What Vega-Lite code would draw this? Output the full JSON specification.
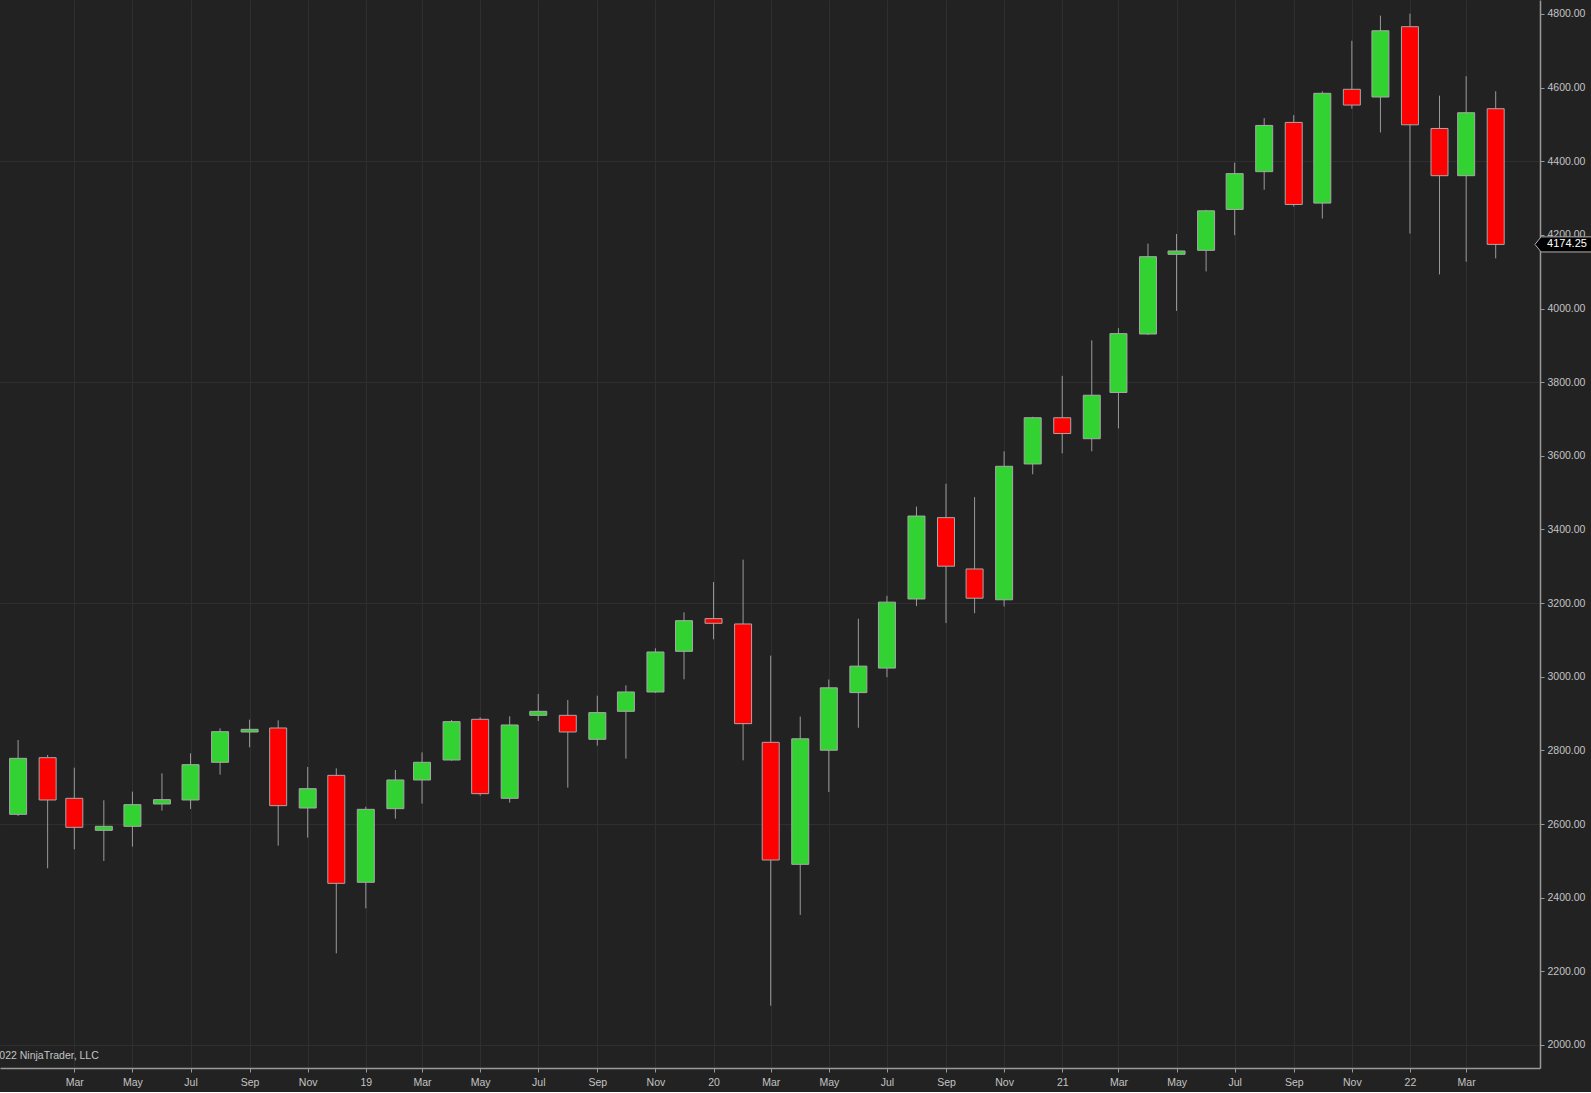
{
  "$schema": "https://vega.github.io/schema/vega-lite/v6.json",
  "background": "#222222",
  "padding": {"left": 0, "top": 0, "right": 0, "bottom": 4},
  "autosize": {"type": "pad"},
  "width": 1540,
  "height": 1068,
  "config": {
    "view": {"stroke": null},
    "font": "Liberation Sans"
  },
  "datasets": {
    "ohlc": [
      {"date": "2018-01-01", "open": 2626.4, "high": 2828.3, "low": 2622.0, "close": 2778.5},
      {"date": "2018-02-01", "open": 2780.3, "high": 2787.6, "low": 2479.8, "close": 2665.4},
      {"date": "2018-03-01", "open": 2669.9, "high": 2753.2, "low": 2531.4, "close": 2591.1},
      {"date": "2018-04-01", "open": 2583.0, "high": 2664.5, "low": 2499.7, "close": 2593.8},
      {"date": "2018-05-01", "open": 2593.8, "high": 2688.0, "low": 2538.6, "close": 2652.7},
      {"date": "2018-06-01", "open": 2654.5, "high": 2737.8, "low": 2636.4, "close": 2666.3},
      {"date": "2018-07-01", "open": 2665.4, "high": 2792.1, "low": 2640.9, "close": 2761.3},
      {"date": "2018-08-01", "open": 2767.7, "high": 2860.0, "low": 2734.2, "close": 2850.9},
      {"date": "2018-09-01", "open": 2850.0, "high": 2883.5, "low": 2808.4, "close": 2857.3},
      {"date": "2018-10-01", "open": 2860.9, "high": 2881.7, "low": 2541.3, "close": 2650.0},
      {"date": "2018-11-01", "open": 2643.6, "high": 2755.0, "low": 2563.1, "close": 2696.1},
      {"date": "2018-12-01", "open": 2732.3, "high": 2751.4, "low": 2248.9, "close": 2439.0},
      {"date": "2019-01-01", "open": 2441.8, "high": 2647.3, "low": 2371.1, "close": 2640.0},
      {"date": "2019-02-01", "open": 2641.8, "high": 2746.9, "low": 2614.7, "close": 2719.7},
      {"date": "2019-03-01", "open": 2719.7, "high": 2794.8, "low": 2655.4, "close": 2767.7},
      {"date": "2019-04-01", "open": 2774.0, "high": 2882.7, "low": 2772.0, "close": 2878.1},
      {"date": "2019-05-01", "open": 2884.5, "high": 2889.9, "low": 2677.2, "close": 2682.6},
      {"date": "2019-06-01", "open": 2669.9, "high": 2892.6, "low": 2658.2, "close": 2869.1},
      {"date": "2019-07-01", "open": 2895.3, "high": 2953.3, "low": 2879.9, "close": 2906.2},
      {"date": "2019-08-01", "open": 2895.3, "high": 2937.0, "low": 2698.9, "close": 2850.1},
      {"date": "2019-09-01", "open": 2830.2, "high": 2948.7, "low": 2813.0, "close": 2902.6},
      {"date": "2019-10-01", "open": 2906.2, "high": 2976.8, "low": 2777.6, "close": 2958.7},
      {"date": "2019-11-01", "open": 2958.7, "high": 3077.3, "low": 2956.0, "close": 3067.3},
      {"date": "2019-12-01", "open": 3069.1, "high": 3175.1, "low": 2993.1, "close": 3152.4},
      {"date": "2020-01-01", "open": 3157.9, "high": 3257.4, "low": 3101.7, "close": 3145.2},
      {"date": "2020-02-01", "open": 3143.4, "high": 3318.1, "low": 2773.1, "close": 2872.7},
      {"date": "2020-03-01", "open": 2822.0, "high": 3057.4, "low": 2106.8, "close": 2502.4},
      {"date": "2020-04-01", "open": 2490.6, "high": 2891.7, "low": 2353.3, "close": 2831.6},
      {"date": "2020-05-01", "open": 2800.5, "high": 2992.5, "low": 2686.9, "close": 2970.0},
      {"date": "2020-06-01", "open": 2957.0, "high": 3157.6, "low": 2861.6, "close": 3028.9},
      {"date": "2020-07-01", "open": 3023.6, "high": 3219.8, "low": 2998.9, "close": 3202.7},
      {"date": "2020-08-01", "open": 3211.3, "high": 3462.2, "low": 3191.9, "close": 3436.5},
      {"date": "2020-09-01", "open": 3432.2, "high": 3524.4, "low": 3145.8, "close": 3300.3},
      {"date": "2020-10-01", "open": 3292.8, "high": 3488.0, "low": 3172.6, "close": 3213.4},
      {"date": "2020-11-01", "open": 3209.1, "high": 3612.3, "low": 3190.9, "close": 3571.6},
      {"date": "2020-12-01", "open": 3578.0, "high": 3706.0, "low": 3550.1, "close": 3703.5},
      {"date": "2021-01-01", "open": 3703.5, "high": 3817.2, "low": 3607.0, "close": 3660.6},
      {"date": "2021-02-01", "open": 3646.6, "high": 3913.7, "low": 3612.3, "close": 3764.6},
      {"date": "2021-03-01", "open": 3772.1, "high": 3946.9, "low": 3674.5, "close": 3931.9},
      {"date": "2021-04-01", "open": 3930.9, "high": 4176.4, "low": 3928.0, "close": 4140.9},
      {"date": "2021-05-01", "open": 4147.3, "high": 4202.7, "low": 3993.6, "close": 4156.4},
      {"date": "2021-06-01", "open": 4158.2, "high": 4268.2, "low": 4100.9, "close": 4265.5},
      {"date": "2021-07-01", "open": 4269.1, "high": 4396.4, "low": 4199.1, "close": 4366.4},
      {"date": "2021-08-01", "open": 4371.8, "high": 4517.3, "low": 4322.7, "close": 4497.3},
      {"date": "2021-09-01", "open": 4505.5, "high": 4525.5, "low": 4277.3, "close": 4282.7},
      {"date": "2021-10-01", "open": 4286.4, "high": 4590.0, "low": 4244.5, "close": 4584.5},
      {"date": "2021-11-01", "open": 4595.5, "high": 4727.3, "low": 4542.7, "close": 4552.7},
      {"date": "2021-12-01", "open": 4574.5, "high": 4795.5, "low": 4478.2, "close": 4754.5},
      {"date": "2022-01-01", "open": 4765.5, "high": 4800.9, "low": 4203.6, "close": 4499.1},
      {"date": "2022-02-01", "open": 4489.1, "high": 4578.2, "low": 4092.7, "close": 4360.9},
      {"date": "2022-03-01", "open": 4360.9, "high": 4630.9, "low": 4127.3, "close": 4531.8},
      {"date": "2022-04-01", "open": 4542.7, "high": 4590.0, "low": 4136.4, "close": 4174.25}
    ],
    "last": [{"price": 4174.25, "label": "4174.25"}],
    "credit": [{"label": "© 2022 NinjaTrader, LLC", "level": 1970}]
  },
  "resolve": {"axis": {"y": "independent"}},
  "layer": [
    {
      "data": {"name": "ohlc"},
      "mark": {"type": "rule", "color": "#9a9a9a", "strokeWidth": 1},
      "encoding": {
        "x": {
          "field": "date",
          "type": "temporal",
          "scale": {
            "type": "utc",
            "padding": 0,
            "domain": [1513123200000, 1652788800000]
          },
          "axis": {
            "orient": "bottom",
            "title": null,
            "values": [1519862400000, 1525132800000, 1530403200000, 1535760000000, 1541030400000, 1546300800000, 1551398400000, 1556668800000, 1561939200000, 1567296000000, 1572566400000, 1577836800000, 1583020800000, 1588291200000, 1593561600000, 1598918400000, 1604188800000, 1609459200000, 1614556800000, 1619827200000, 1625097600000, 1630454400000, 1635724800000, 1640995200000, 1646092800000],
            "labelExpr": "utcmonth(datum.value) == 0 ? utcFormat(datum.value, '%y') : utcFormat(datum.value, '%b')",
            "grid": true,
            "gridColor": "#2f2f2f",
            "gridWidth": 1,
            "domain": true,
            "domainColor": "#9a9a9a",
            "domainWidth": 1.5,
            "ticks": true,
            "tickColor": "#9a9a9a",
            "tickSize": 4,
            "labels": true,
            "labelColor": "#c4c4c4",
            "labelFont": "Liberation Sans",
            "labelFontSize": 10.5,
            "labelPadding": 5,
            "labelFlush": false,
            "labelOverlap": false
          }
        },
        "y": {
          "field": "low",
          "type": "quantitative",
          "scale": {"domain": [1937.5, 4838], "nice": false, "zero": false},
          "axis": {
            "orient": "left",
            "title": null,
            "values": [2000, 2600, 3200, 3800, 4400],
            "grid": true,
            "gridColor": "#2f2f2f",
            "gridWidth": 1,
            "labels": false,
            "ticks": false,
            "domain": false,
            "minExtent": 0,
            "maxExtent": 0
          }
        },
        "y2": {"field": "high"}
      }
    },
    {
      "data": {"name": "ohlc"},
      "mark": {"type": "bar", "width": 17, "stroke": "#a8a8a8", "strokeWidth": 1},
      "encoding": {
        "x": {"field": "date", "type": "temporal"},
        "y": {
          "field": "open",
          "type": "quantitative",
          "axis": {
            "orient": "right",
            "title": null,
            "values": [2000, 2200, 2400, 2600, 2800, 3000, 3200, 3400, 3600, 3800, 4000, 4200, 4400, 4600, 4800],
            "format": ".2f",
            "grid": false,
            "domainColor": "#9a9a9a",
            "domainWidth": 1.5,
            "tickColor": "#9a9a9a",
            "tickSize": 4,
            "labelColor": "#c4c4c4",
            "labelFont": "Liberation Sans",
            "labelFontSize": 10.5,
            "labelPadding": 3,
            "labelFlush": false,
            "labelOverlap": false
          }
        },
        "y2": {"field": "close"},
        "color": {
          "condition": {"test": "datum.close >= datum.open", "value": "#33d233"},
          "value": "#ff0000"
        }
      }
    },
    {
      "data": {"name": "credit"},
      "mark": {"type": "text", "align": "left", "baseline": "middle", "color": "#c4c4c4", "font": "Liberation Sans", "fontSize": 10.5, "clip": true},
      "encoding": {
        "x": {"datum": 1511568000000, "type": "temporal"},
        "y": {"field": "level", "type": "quantitative", "axis": null},
        "text": {"field": "label"}
      }
    },
    {
      "data": {"name": "last"},
      "mark": {
        "type": "point",
        "shape": "M-1,0L-0.79,-0.26L1,-0.26L1,0.26L-0.79,0.26Z",
        "size": 3364,
        "filled": true,
        "fill": "#000000",
        "stroke": "#b0b0b0",
        "strokeWidth": 1,
        "opacity": 1
      },
      "encoding": {
        "x": {"datum": 1654963200000, "type": "temporal"},
        "y": {"field": "price", "type": "quantitative", "axis": null}
      }
    },
    {
      "data": {"name": "last"},
      "mark": {"type": "text", "align": "center", "baseline": "middle", "color": "#ffffff", "font": "Liberation Sans", "fontSize": 11, "dx": 3},
      "encoding": {
        "x": {"datum": 1654963200000, "type": "temporal"},
        "y": {"field": "price", "type": "quantitative", "axis": null},
        "text": {"field": "label"}
      }
    }
  ]
}
